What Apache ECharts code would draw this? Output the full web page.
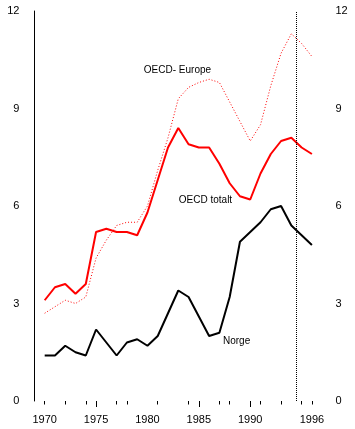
<!DOCTYPE html>
<html>
<head>
<meta charset="utf-8">
<script src="https://cdn.jsdelivr.net/npm/echarts@6/dist/echarts.min.js"></script>
<style>
html,body{margin:0;padding:0;background:#fff;}
#c{width:355px;height:429px;}
</style>
</head>
<body>
<div id="c"></div>
<script>
const years = [1970,1971,1972,1973,1974,1975,1976,1977,1978,1979,1980,1981,1982,1983,1984,1985,1986,1987,1988,1989,1990,1991,1992,1993,1994,1995,1996];
const norge = [1.4,1.4,1.7,1.5,1.4,2.2,1.8,1.4,1.8,1.9,1.7,2.0,2.7,3.4,3.2,2.6,2.0,2.1,3.2,4.9,5.2,5.5,5.9,6.0,5.4,5.1,4.8];
const oecdTotal = [3.1,3.5,3.6,3.3,3.6,5.2,5.3,5.2,5.2,5.1,5.8,6.8,7.8,8.4,7.9,7.8,7.8,7.3,6.7,6.3,6.2,7.0,7.6,8.0,8.1,7.8,7.6];
const oecdEurope = [2.7,2.9,3.1,3.0,3.2,4.4,4.95,5.4,5.5,5.5,6.0,7.1,8.1,9.3,9.65,9.8,9.9,9.8,9.2,8.6,8.0,8.5,9.7,10.7,11.3,11.0,10.6];
const xLabelYears = [1970,1975,1980,1985,1990,1996];
const shortTickYears = [1970,1972,1974,1977,1978,1981,1984,1987,1988,1991,1993,1995,1996];
const longTickYears = [1975,1985,1990];
const markYear = 1994.5;
const seriesNames = ['OECD- Europe','OECD totalt','Norge'];
const labelAnchors = [[1979.6,10.18],[1983.0,6.18],[1987.3,1.83]];

const font = "'Liberation Sans', Arial, sans-serif";
function pairs(vals){ return years.map((y,i)=>[y, vals[i]]); }
function annot(i){
  return {
    silent:true,
    data:[{coord:labelAnchors[i], symbol:'rect', symbolSize:1,
      itemStyle:{color:'transparent'},
      label:{show:true, position:'right', distance:0, formatter:seriesNames[i], color:'#000', fontSize:10, fontFamily:font}}]
  };
}
const chart = echarts.init(document.getElementById('c'), null, {renderer:'canvas'});
const baseX = {type:'value', min:1969, max:1996, gridIndex:0, splitLine:{show:false}, axisLine:{show:false}};
chart.setOption({
  animation:false,
  backgroundColor:'#fff',
  grid:{left:34.4, right:43.1, top:11, bottom:28, containLabel:false},
  xAxis:[
    Object.assign({}, baseX, {
      position:'bottom', offset:0.7,
      axisTick:{show:true, length:3.5, customValues:shortTickYears, lineStyle:{color:'#000', width:1}},
      axisLabel:{show:true, customValues:xLabelYears, margin:13, color:'#000', fontSize:11, fontFamily:font,
        formatter:function(v){ return v===1996 ? '{b|1996}' : '{a|'+v+'}'; },
        rich:{a:{fontSize:11, fontFamily:font, color:'#000'}, b:{fontSize:11, fontFamily:font, color:'#000', padding:[0,0,4,0]}}}
    }),
    Object.assign({}, baseX, {
      position:'bottom', offset:0,
      axisTick:{show:true, length:6, customValues:longTickYears, lineStyle:{color:'#000', width:1}},
      axisLabel:{show:false}
    })
  ],
  yAxis:[
    {type:'value', min:0, max:12, interval:3, position:'left',
     axisLine:{show:true, lineStyle:{color:'#000', width:1}}, axisTick:{show:false}, splitLine:{show:false},
     axisLabel:{margin:15, color:'#000', fontSize:11, fontFamily:font}},
    {type:'value', min:0, max:12, interval:3, position:'right',
     axisLine:{show:false}, axisTick:{show:false}, splitLine:{show:false},
     axisLabel:{margin:23.5, color:'#000', fontSize:11, fontFamily:font}}
  ],
  series:[
    {name:seriesNames[0], type:'line', data:pairs(oecdEurope), symbol:'none', z:3,
     lineStyle:{color:'#ff0000', width:1, type:[1,2]}, markPoint:annot(0)},
    {name:seriesNames[1], type:'line', data:pairs(oecdTotal), symbol:'none', z:4,
     lineStyle:{color:'#ff0000', width:2}, markPoint:annot(1)},
    {name:seriesNames[2], type:'line', data:pairs(norge), symbol:'none', z:5,
     lineStyle:{color:'#000', width:2}, markPoint:annot(2),
     markLine:{silent:true, symbol:'none', label:{show:false},
       lineStyle:{color:'#000', width:1, type:[1,1]}, data:[{xAxis:markYear}]}}
  ]
});
</script>
</body>
</html>
